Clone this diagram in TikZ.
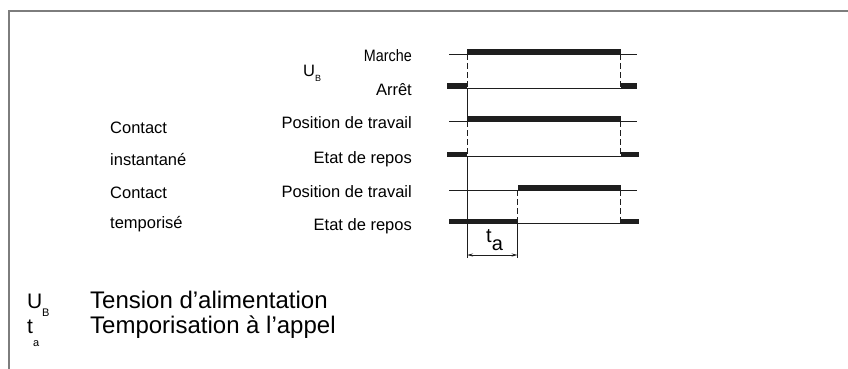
\documentclass[tikz,border=0pt]{standalone}
\usepackage{fontspec}
\setmainfont{Liberation Sans}
\usetikzlibrary{arrows.meta}
\definecolor{framegray}{RGB}{125,125,125}
\definecolor{sig}{RGB}{30,30,30}
\begin{document}
\begin{tikzpicture}[x=1pt,y=-1pt,
  sigline/.style={draw=sig, line width=0.9pt},
  bar/.style={fill=sig, draw=none},
  dashv/.style={draw=sig, line width=0.9pt, dash pattern=on 6pt off 3pt},
  solidv/.style={draw=sig, line width=0.9pt},
  lbl/.style={inner sep=0pt, anchor=base east, font=\fontsize{16.5}{19}\selectfont},
  lft/.style={inner sep=0pt, anchor=base west, font=\fontsize{16.5}{19}\selectfont},
  leg/.style={inner sep=0pt, anchor=base west, font=\fontsize{24}{27}\selectfont},
  legsub/.style={inner sep=0pt, anchor=base west, font=\fontsize{11}{13}\selectfont},
  frameline/.style={draw=framegray, line width=1.6pt}]
\useasboundingbox (0,0) rectangle (848,369);
% frame
\draw[frameline] (9,369) -- (9,11) -- (848,11);

% named coordinates for vertical edges
\coordinate (a1) at (467,54);  \coordinate (a2) at (467,88);
\coordinate (a3) at (467,121); \coordinate (a4) at (467,156);
\coordinate (a5) at (467,258);
\coordinate (b1) at (620.5,54);  \coordinate (b2) at (620.5,88);
\coordinate (b3) at (620.5,121); \coordinate (b4) at (620.5,156);
\coordinate (b5) at (620.5,190); \coordinate (b6) at (620.5,223.5);
\coordinate (c1) at (517.7,190); \coordinate (c2) at (517.7,223.5);
\coordinate (c3) at (517.7,258);
\coordinate (arrL) at (467,255); \coordinate (arrR) at (517.7,255);

% Row 1 : U_B
\draw[sigline] (449,54) -- (637,54);
\fill[bar] (467,49) rectangle (620.5,54.5);
\draw[sigline] (467,88) -- (620.5,88);
\fill[bar] (447,83) rectangle (467,88.5);
\fill[bar] (620.5,83) rectangle (637,88.5);

% Row 2 : contact instantane
\draw[sigline] (449,121) -- (637,121);
\fill[bar] (467,116) rectangle (620.5,121.5);
\draw[sigline] (467,156) -- (620.5,156);
\fill[bar] (447,151.5) rectangle (467,157);
\fill[bar] (620.5,151.5) rectangle (639,157);

% Row 3 : contact temporise
\draw[sigline] (449,190) -- (637,190);
\fill[bar] (517.7,184.5) rectangle (620.5,190.5);
\draw[sigline] (517.7,223.5) -- (620.5,223.5);
\fill[bar] (449,218.5) rectangle (517.7,224);
\fill[bar] (620.5,218.5) rectangle (639,224);

% verticals
\draw[dashv] (a1) -- (a2);
\draw[solidv] (a2) -- (a3);
\draw[dashv] (a3) -- (a4);
\draw[solidv] (a4) -- (a5);
\draw[dashv] (b1) -- (b2);
\draw[dashv] (b3) -- (b4);
\draw[dashv] (b5) -- (b6);
\draw[dashv] (c1) -- (c2);
\draw[solidv] (c2) -- (c3);

% t_a arrow
\draw[sig, line width=0.9pt, {Stealth[length=6pt,width=3pt]}-{Stealth[length=6pt,width=3pt]}] (arrL) -- (arrR);
\node[inner sep=0pt, anchor=base west, font=\fontsize{20}{22}\selectfont] (ta) at (486,242) {t\raisebox{-8pt}{a}};

% labels
\node[lbl, xscale=0.87, anchor=base east] (marche) at (412,61) {Marche};
\node[lbl] (arret) at (412,95) {Arrêt};
\node[inner sep=0pt, anchor=base west, font=\fontsize{16.5}{19}\selectfont] (ub) at (303,77) {U\raisebox{-5pt}{\fontsize{9}{10}\selectfont B}};
\node[lbl] (pt1) at (412,128) {Position de travail};
\node[lbl] (er1) at (412,163) {Etat de repos};
\node[lbl] (pt2) at (412,197) {Position de travail};
\node[lbl] (er2) at (412,230) {Etat de repos};
\node[lft] (c1t) at (110,133) {Contact};
\node[lft] (c1b) at (110,165) {instantané};
\node[lft] (c2t) at (110,198) {Contact};
\node[lft] (c2b) at (110,228) {temporisé};

% legend
\node[leg, font=\fontsize{21}{24}\selectfont] (lu) at (27,308) {U};
\node[legsub] (lub) at (42,316) {B};
\node[leg] (lut) at (90,308) {Tension d’alimentation};
\node[leg, font=\fontsize{21}{24}\selectfont] (lt) at (27,333) {t};
\node[legsub] (lta) at (33,346) {a};
\node[leg] (ltt) at (90,333) {Temporisation à l’appel};
\end{tikzpicture}
\end{document}
